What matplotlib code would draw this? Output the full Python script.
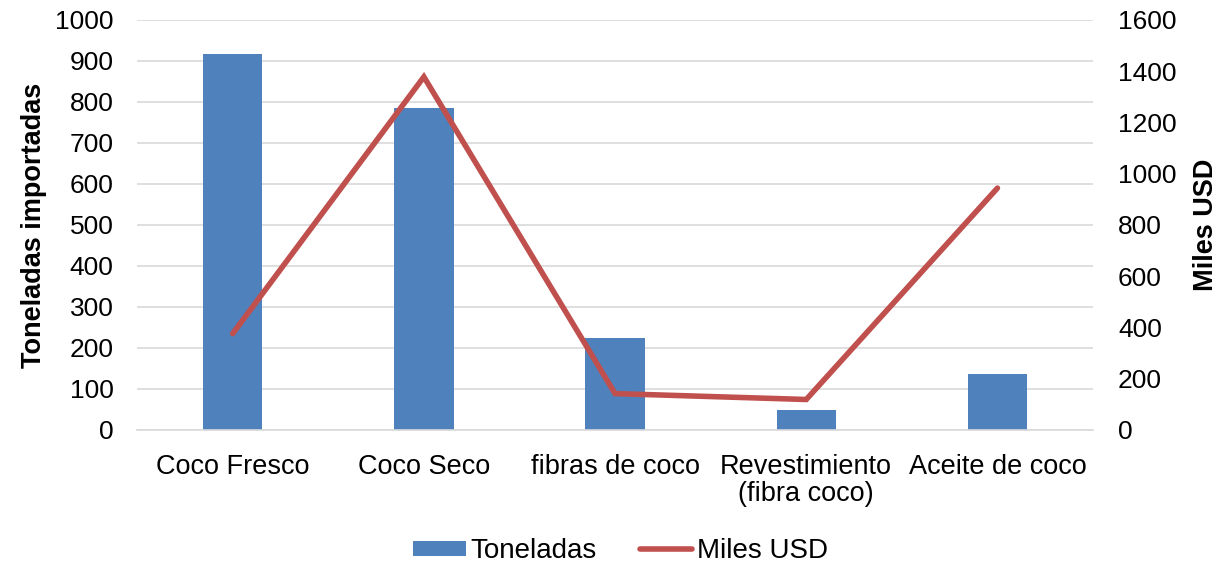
import matplotlib
matplotlib.use("Agg")
import matplotlib.pyplot as plt
import numpy as np

plt.rcParams['font.family'] = ['Liberation Sans', 'DejaVu Sans']

categories = ["Coco Fresco", "Coco Seco", "fibras de coco", "Revestimiento\n(fibra coco)", "Aceite de coco"]
toneladas = [918, 786, 224, 48, 137]
miles_usd = [376, 1378, 142, 119, 944]

bar_color = "#4F81BD"
line_color = "#C0504D"

fig = plt.figure(figsize=(12.24, 5.64), dpi=100)
ax = fig.add_axes([0.112, 0.2376, 0.781, 0.727])
x = np.arange(len(categories))
bars = ax.bar(x, toneladas, width=0.31, color=bar_color, label="Toneladas", zorder=2)
ax.set_ylim(0, 1000)
ax.set_yticks(np.arange(0, 1001, 100))
ax.set_xlim(-0.5, len(categories) - 0.5)
ax.set_xticks(x)
ax.set_xticklabels(categories, fontsize=19.5, linespacing=1.05)
ax.tick_params(axis='y', labelsize=19, length=0, pad=17)
ax.tick_params(axis='x', length=0, pad=17)
ax.grid(axis='y', color='#D9D9D9', linewidth=1.2, zorder=0)
ax.set_axisbelow(True)
for s in ['top', 'right', 'left']:
    ax.spines[s].set_visible(False)
ax.spines['bottom'].set_color('#D9D9D9')
ax.spines['bottom'].set_linewidth(1.2)
ax.set_ylabel("Toneladas importadas", fontsize=19.5, fontweight='bold', labelpad=6)

ax2 = ax.twinx()
line, = ax2.plot(x, miles_usd, color=line_color, linewidth=4, label="Miles USD", zorder=3,
                 solid_capstyle='round', solid_joinstyle='miter')
ax2.set_ylim(0, 1600)
ax2.set_yticks(np.arange(0, 1601, 200))
ax2.tick_params(axis='y', labelsize=19, length=0, pad=18)
for s in ['top', 'right', 'left', 'bottom']:
    ax2.spines[s].set_visible(False)
ax2.set_ylabel("Miles USD", fontsize=19.5, fontweight='bold', labelpad=12)

fig.legend([bars, line], ["Toneladas", "Miles USD"], loc='lower center', ncol=2,
           bbox_to_anchor=(0.507, -0.045), frameon=False, fontsize=20,
           handlelength=1.9, handleheight=0.5, columnspacing=1.55, handletextpad=0.15)

fig.savefig("out.png", dpi=100)
